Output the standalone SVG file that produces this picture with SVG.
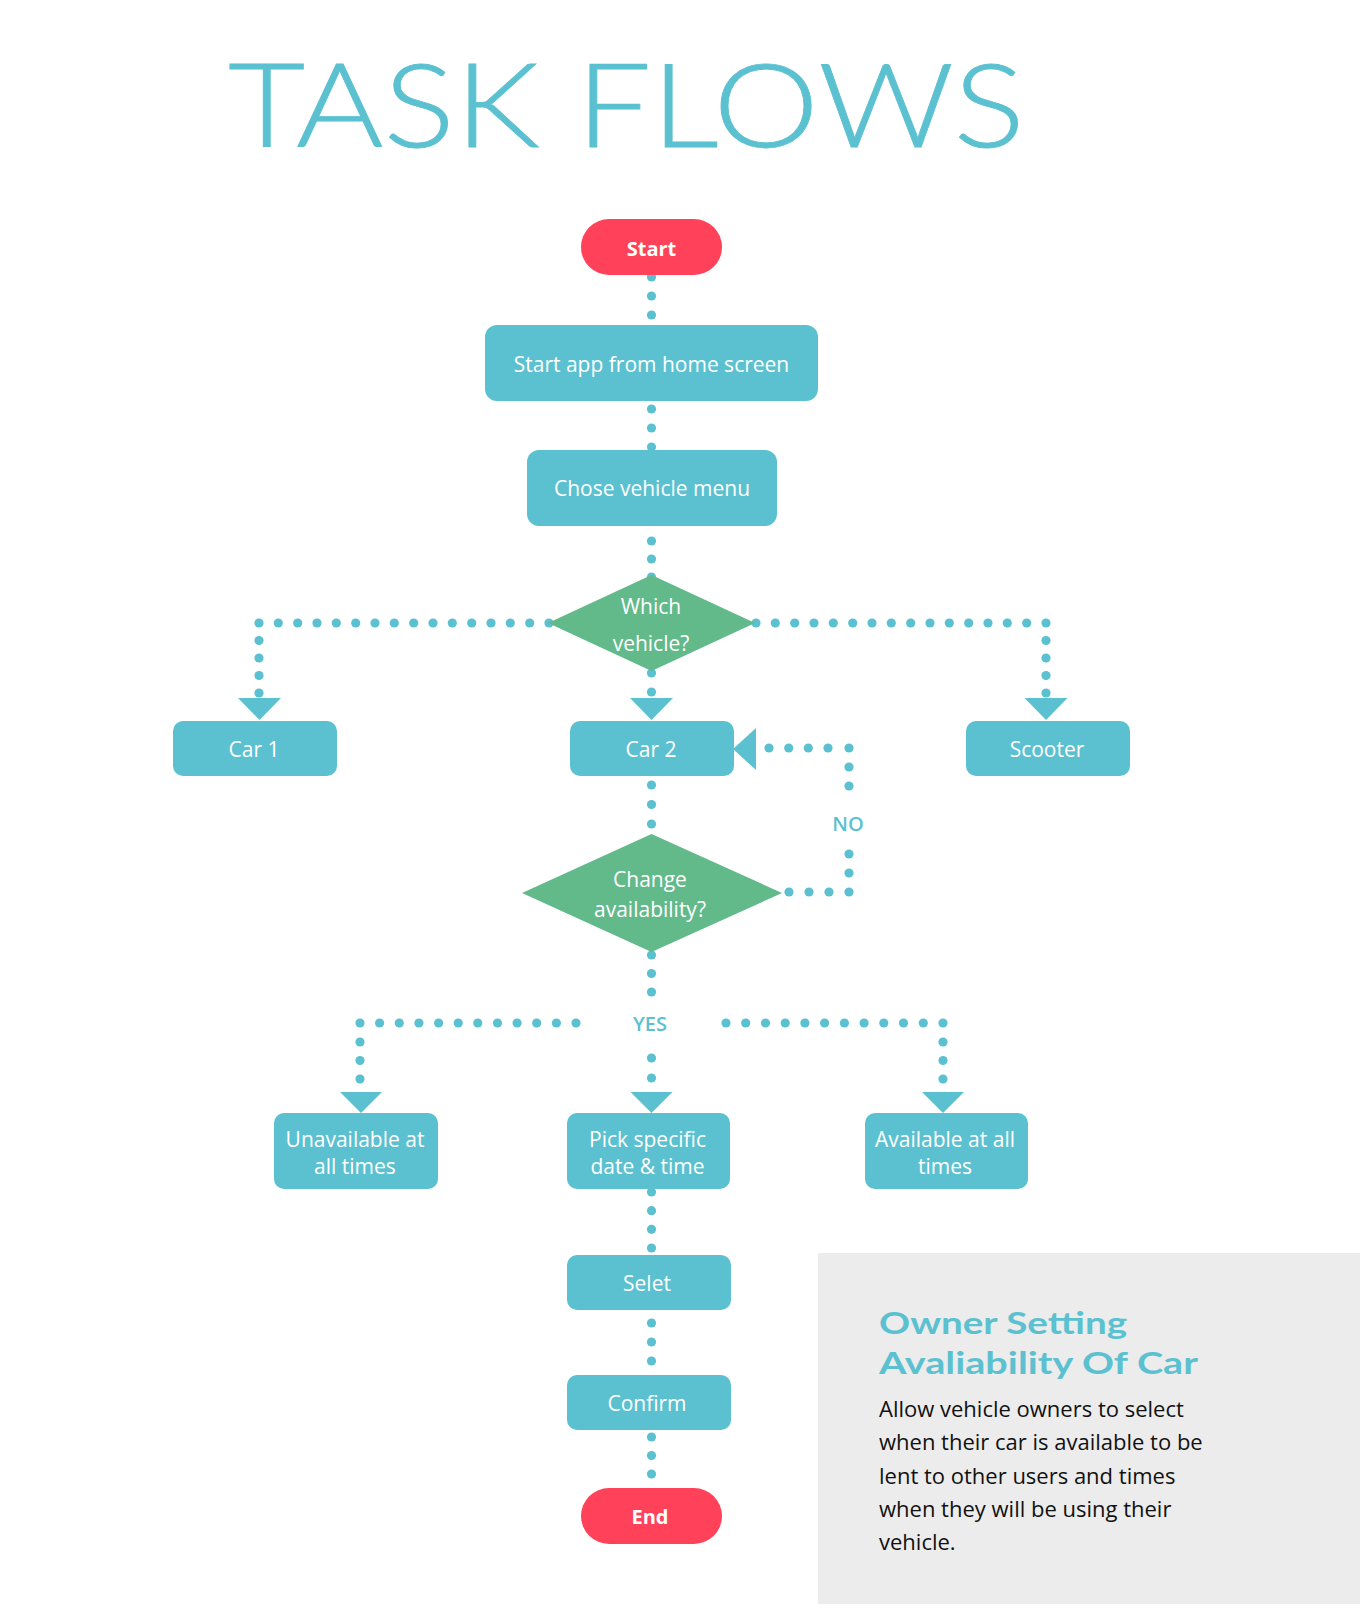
<svg xmlns="http://www.w3.org/2000/svg" width="1360" height="1616" viewBox="0 0 1360 1616">
<defs>
<style>
.box{fill:#5BC1D0}
.pill{fill:#FF425A}
.dia{fill:#62BA8A}
.t{font-family:"Open Sans","DejaVu Sans",sans-serif;font-size:21px;font-weight:500;fill:#FFFFFF;text-anchor:middle}
.tb{font-family:"Open Sans","DejaVu Sans",sans-serif;font-size:20px;font-weight:700;fill:#FFFFFF;text-anchor:middle}
.lbl{font-family:"Open Sans","DejaVu Sans",sans-serif;font-size:20px;font-weight:600;fill:#5BC1D0;text-anchor:middle}
#connectors circle{fill:#5BC1D0}
.arr{fill:#5BC1D0}
.head{font-family:Lato,"Open Sans",sans-serif;font-size:31px;font-weight:700;fill:#5BC1D0}
.body{font-family:"Open Sans","DejaVu Sans",sans-serif;font-size:22px;font-weight:500;fill:#111111}
</style>
</defs>
<rect x="0" y="0" width="1360" height="1616" fill="#FFFFFF"/>
<text x="228" y="147" font-family="Lato, 'Open Sans', sans-serif" font-size="116" font-weight="300" fill="#5BC1D0" stroke="#5BC1D0" stroke-width="0.8" textLength="797" lengthAdjust="spacingAndGlyphs">TASK FLOWS</text>

<g id="connectors">
<!-- Start -> Start app -->
<circle cx="651.5" cy="277" r="4.6"/><circle cx="651.5" cy="296" r="4.6"/><circle cx="651.5" cy="315" r="4.6"/>
<!-- Start app -> Chose vehicle -->
<circle cx="651.5" cy="409" r="4.6"/><circle cx="651.5" cy="428" r="4.6"/><circle cx="651.5" cy="447" r="4.6"/>
<!-- Chose vehicle -> Which vehicle -->
<circle cx="651.5" cy="541" r="4.6"/><circle cx="651.5" cy="559" r="4.6"/><circle cx="651.5" cy="577" r="4.6"/>
<!-- Which vehicle -> Car 1 -->
<circle cx="549" cy="623" r="4.6"/><circle cx="529.7" cy="623" r="4.6"/><circle cx="510.3" cy="623" r="4.6"/><circle cx="491" cy="623" r="4.6"/>
<circle cx="471.7" cy="623" r="4.6"/><circle cx="452.3" cy="623" r="4.6"/><circle cx="433" cy="623" r="4.6"/><circle cx="413.7" cy="623" r="4.6"/>
<circle cx="394.3" cy="623" r="4.6"/><circle cx="375" cy="623" r="4.6"/><circle cx="355.7" cy="623" r="4.6"/><circle cx="336.3" cy="623" r="4.6"/>
<circle cx="317" cy="623" r="4.6"/><circle cx="297.7" cy="623" r="4.6"/><circle cx="278.3" cy="623" r="4.6"/><circle cx="259" cy="623" r="4.6"/>
<circle cx="259" cy="640.5" r="4.6"/><circle cx="259" cy="658" r="4.6"/><circle cx="259" cy="675.5" r="4.6"/><circle cx="259" cy="693" r="4.6"/>
<polygon class="arr" points="238,698 281,698 259.5,720"/>
<!-- Which vehicle -> Car 2 -->
<circle cx="651.5" cy="673" r="4.6"/><circle cx="651.5" cy="692" r="4.6"/>
<polygon class="arr" points="630,698 673,698 651.5,720"/>
<!-- Which vehicle -> Scooter -->
<circle cx="756" cy="623" r="4.6"/><circle cx="775.3" cy="623" r="4.6"/><circle cx="794.7" cy="623" r="4.6"/><circle cx="814" cy="623" r="4.6"/>
<circle cx="833.3" cy="623" r="4.6"/><circle cx="852.7" cy="623" r="4.6"/><circle cx="872" cy="623" r="4.6"/><circle cx="891.3" cy="623" r="4.6"/>
<circle cx="910.7" cy="623" r="4.6"/><circle cx="930" cy="623" r="4.6"/><circle cx="949.3" cy="623" r="4.6"/><circle cx="968.7" cy="623" r="4.6"/>
<circle cx="988" cy="623" r="4.6"/><circle cx="1007.3" cy="623" r="4.6"/><circle cx="1026.7" cy="623" r="4.6"/><circle cx="1046" cy="623" r="4.6"/>
<circle cx="1046" cy="640.5" r="4.6"/><circle cx="1046" cy="658" r="4.6"/><circle cx="1046" cy="675.5" r="4.6"/><circle cx="1046" cy="693" r="4.6"/>
<polygon class="arr" points="1024.5,698 1067.5,698 1046,720"/>
<!-- Car 2 -> Change availability -->
<circle cx="651.5" cy="785" r="4.6"/><circle cx="651.5" cy="804.5" r="4.6"/><circle cx="651.5" cy="824" r="4.6"/>
<!-- Change availability -> Car 2 (NO) -->
<circle cx="789" cy="892" r="4.6"/><circle cx="809" cy="892" r="4.6"/><circle cx="829" cy="892" r="4.6"/><circle cx="849" cy="892" r="4.6"/>
<circle cx="849" cy="873" r="4.6"/><circle cx="849" cy="854" r="4.6"/>
<text class="lbl" x="848" y="831">NO</text>
<circle cx="849" cy="786" r="4.6"/><circle cx="849" cy="767" r="4.6"/><circle cx="849" cy="748" r="4.6"/>
<circle cx="828" cy="748" r="4.6"/><circle cx="808.3" cy="748" r="4.6"/><circle cx="788.7" cy="748" r="4.6"/><circle cx="769" cy="748" r="4.6"/>
<polygon class="arr" points="756,728 756,770 733,749"/>
<!-- Change availability -> YES branches -->
<circle cx="651.5" cy="955" r="4.6"/><circle cx="651.5" cy="973.5" r="4.6"/><circle cx="651.5" cy="992" r="4.6"/>
<text class="lbl" x="650" y="1031">YES</text>
<circle cx="576" cy="1023" r="4.6"/><circle cx="556.4" cy="1023" r="4.6"/><circle cx="536.7" cy="1023" r="4.6"/><circle cx="517.1" cy="1023" r="4.6"/>
<circle cx="497.5" cy="1023" r="4.6"/><circle cx="477.8" cy="1023" r="4.6"/><circle cx="458.2" cy="1023" r="4.6"/><circle cx="438.6" cy="1023" r="4.6"/>
<circle cx="418.9" cy="1023" r="4.6"/><circle cx="399.3" cy="1023" r="4.6"/><circle cx="379.6" cy="1023" r="4.6"/><circle cx="360" cy="1023" r="4.6"/>
<circle cx="360" cy="1042" r="4.6"/><circle cx="360" cy="1060.5" r="4.6"/><circle cx="360" cy="1079" r="4.6"/>
<polygon class="arr" points="340,1092 382,1092 361,1113"/>
<circle cx="651.5" cy="1058" r="4.6"/><circle cx="651.5" cy="1078" r="4.6"/>
<polygon class="arr" points="630.5,1092 672.5,1092 651.5,1113"/>
<circle cx="726" cy="1023" r="4.6"/><circle cx="745.7" cy="1023" r="4.6"/><circle cx="765.5" cy="1023" r="4.6"/><circle cx="785.2" cy="1023" r="4.6"/>
<circle cx="804.9" cy="1023" r="4.6"/><circle cx="824.6" cy="1023" r="4.6"/><circle cx="844.4" cy="1023" r="4.6"/><circle cx="864.1" cy="1023" r="4.6"/>
<circle cx="883.8" cy="1023" r="4.6"/><circle cx="903.5" cy="1023" r="4.6"/><circle cx="923.3" cy="1023" r="4.6"/><circle cx="943" cy="1023" r="4.6"/>
<circle cx="943" cy="1042" r="4.6"/><circle cx="943" cy="1060.5" r="4.6"/><circle cx="943" cy="1079" r="4.6"/>
<polygon class="arr" points="922,1092 964,1092 943,1113"/>
<!-- Pick specific -> Selet -->
<circle cx="651.5" cy="1192" r="4.6"/><circle cx="651.5" cy="1210.7" r="4.6"/><circle cx="651.5" cy="1229.3" r="4.6"/><circle cx="651.5" cy="1248" r="4.6"/>
<!-- Selet -> Confirm -->
<circle cx="651.5" cy="1323" r="4.6"/><circle cx="651.5" cy="1342" r="4.6"/><circle cx="651.5" cy="1361" r="4.6"/>
<!-- Confirm -> End -->
<circle cx="651.5" cy="1437" r="4.6"/><circle cx="651.5" cy="1455.5" r="4.6"/><circle cx="651.5" cy="1474" r="4.6"/>
</g>

<g id="start">
<rect class="pill" x="581" y="219" width="141" height="56" rx="28"/>
<text class="tb" x="651.5" y="256">Start</text>
</g>
<g id="start-app">
<rect class="box" x="485" y="325" width="333" height="76" rx="12"/>
<text class="t" x="651.5" y="372">Start app from home screen</text>
</g>
<g id="chose-vehicle">
<rect class="box" x="527" y="450" width="250" height="76" rx="12"/>
<text class="t" x="652" y="496">Chose vehicle menu</text>
</g>
<g id="which-vehicle">
<polygon class="dia" points="548,623 651.5,575 755,623 651.5,671"/>
<text class="t" x="651" y="614">Which</text>
<text class="t" x="651" y="651">vehicle?</text>
</g>
<g id="car1">
<rect class="box" x="173" y="721" width="164" height="55" rx="10"/>
<text class="t" x="254" y="757">Car 1</text>
</g>
<g id="car2">
<rect class="box" x="570" y="721" width="164" height="55" rx="10"/>
<text class="t" x="651" y="757">Car 2</text>
</g>
<g id="scooter">
<rect class="box" x="966" y="721" width="164" height="55" rx="10"/>
<text class="t" x="1047" y="757">Scooter</text>
</g>
<g id="change-availability">
<polygon class="dia" points="522,893 651.5,834 782,893 651.5,952"/>
<text class="t" x="650" y="887">Change</text>
<text class="t" x="650" y="917">availability?</text>
</g>
<g id="unavailable">
<rect class="box" x="274" y="1113" width="164" height="76" rx="10"/>
<text class="t" x="355" y="1147">Unavailable at</text>
<text class="t" x="355" y="1174">all times</text>
</g>
<g id="pick-specific">
<rect class="box" x="567" y="1113" width="163" height="76" rx="10"/>
<text class="t" x="647.5" y="1147">Pick specific</text>
<text class="t" x="647.5" y="1174">date &amp; time</text>
</g>
<g id="available">
<rect class="box" x="865" y="1113" width="163" height="76" rx="10"/>
<text class="t" x="945" y="1147">Available at all</text>
<text class="t" x="945" y="1174">times</text>
</g>
<g id="selet">
<rect class="box" x="567" y="1255" width="164" height="55" rx="10"/>
<text class="t" x="647" y="1291">Selet</text>
</g>
<g id="confirm">
<rect class="box" x="567" y="1375" width="164" height="55" rx="10"/>
<text class="t" x="647" y="1411">Confirm</text>
</g>
<g id="end">
<rect class="pill" x="581" y="1488" width="141" height="56" rx="28"/>
<text class="tb" x="650" y="1524">End</text>
</g>

<g id="info-panel">
<rect x="818" y="1253" width="542" height="351" fill="#ECECEC"/>
<text class="head" x="879" y="1334" textLength="248" lengthAdjust="spacingAndGlyphs">Owner Setting</text>
<text class="head" x="879" y="1374" textLength="319" lengthAdjust="spacingAndGlyphs">Avaliability Of Car</text>
<text class="body" x="879" y="1417">Allow vehicle owners to select</text>
<text class="body" x="879" y="1450">when their car is available to be</text>
<text class="body" x="879" y="1484">lent to other users and times</text>
<text class="body" x="879" y="1517">when they will be using their</text>
<text class="body" x="879" y="1550">vehicle.</text>
</g>
</svg>
